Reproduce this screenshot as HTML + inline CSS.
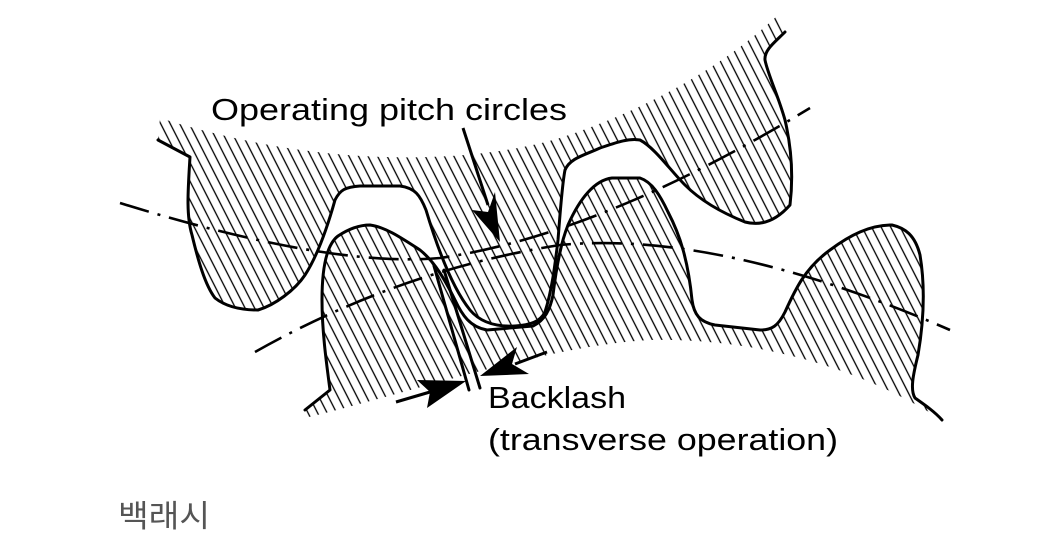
<!DOCTYPE html>
<html><head><meta charset="utf-8"><style>
html,body{margin:0;padding:0;background:#fff;}
svg{display:block;}
text{font-family:"Liberation Sans","DejaVu Sans",sans-serif;}
</style></head><body>
<svg width="1040" height="557" viewBox="0 0 1040 557" xmlns="http://www.w3.org/2000/svg">
<defs>
<pattern id="h" width="8.5" height="20" patternUnits="userSpaceOnUse" patternTransform="rotate(-27)">
<line x1="2" y1="0" x2="2" y2="20" stroke="#000" stroke-width="1.3"/>
</pattern>
</defs>
<path fill="url(#h)" d="M158,140 L190,157 C188,190 186,215 192,235 C198,260 205,285 215,298 C225,306 240,310 258,310 C275,305 295,290 305,275 C318,255 328,225 335,200 C340,190 345,187 360,186 L400,186 C415,188 420,195 426,210 C435,240 450,285 470,310 C480,322 495,327 515,326 C530,325 540,322 545,312 C552,290 555,265 558,240 C560,215 562,185 565,170 C570,158 585,155 600,148 C615,143 628,138 640,140 C655,148 670,170 685,185 C700,200 720,212 745,222 C760,226 775,222 790,205 C793,180 792,150 785,120 C778,95 768,75 765,60 C764,50 775,42 785,32 L778,15 C720,70 640,112 560,138 C480,162 330,172 160,118 Z"/>
<path fill="url(#h)" d="M305,410 L330,390 C326,360 322,330 322,300 C322,270 326,245 338,236 C350,228 360,225 370,225 C385,227 400,237 420,250 C435,262 445,280 455,300 C462,315 470,327 487,330 L533,326 C545,320 550,310 553,295 C556,270 560,245 568,225 C580,198 595,180 612,178 L640,178 C652,182 660,195 668,212 C680,235 688,260 692,300 C694,315 700,322 715,325 L760,330 C772,330 778,326 785,312 C795,290 805,268 830,250 C850,235 870,225 892,225 C905,228 915,235 920,255 C925,285 924,320 918,355 C913,375 910,390 915,398 C925,405 935,412 942,420 C860,368 760,338 650,340 C550,345 420,390 305,418 Z"/>
<g fill="none" stroke="#000" stroke-width="3" stroke-linejoin="round" stroke-linecap="round">
<path d="M158,140 L190,157 C188,190 186,215 192,235 C198,260 205,285 215,298 C225,306 240,310 258,310 C275,305 295,290 305,275 C318,255 328,225 335,200 C340,190 345,187 360,186 L400,186 C415,188 420,195 426,210 C435,240 450,285 470,310 C480,322 495,327 515,326 C530,325 540,322 545,312 C552,290 555,265 558,240 C560,215 562,185 565,170 C570,158 585,155 600,148 C615,143 628,138 640,140 C655,148 670,170 685,185 C700,200 720,212 745,222 C760,226 775,222 790,205 C793,180 792,150 785,120 C778,95 768,75 765,60 C764,50 775,42 785,32"/>
<path d="M305,410 L330,390 C326,360 322,330 322,300 C322,270 326,245 338,236 C350,228 360,225 370,225 C385,227 400,237 420,250 C435,262 445,280 455,300 C462,315 470,327 487,330 L533,326 C545,320 550,310 553,295 C556,270 560,245 568,225 C580,198 595,180 612,178 L640,178 C652,182 660,195 668,212 C680,235 688,260 692,300 C694,315 700,322 715,325 L760,330 C772,330 778,326 785,312 C795,290 805,268 830,250 C850,235 870,225 892,225 C905,228 915,235 920,255 C925,285 924,320 918,355 C913,375 910,390 915,398 C925,405 935,412 942,420"/>
<line x1="434" y1="266" x2="469" y2="390"/>
<line x1="444" y1="270" x2="480" y2="388"/>
</g>
<g fill="none" stroke="#000" stroke-width="2.6" stroke-dasharray="30 9 3 9">
<path d="M120,203 Q330,268 440,258 Q600,235 810,108"/>
<path d="M255,352 Q400,270 560,245 Q720,230 950,330"/>
</g>
<g stroke="#000" stroke-width="3" fill="none">
<line x1="463" y1="128" x2="488" y2="205"/>
<line x1="396" y1="402" x2="430" y2="392"/>
<line x1="547" y1="352" x2="515" y2="364"/>
</g>
<g fill="#000">
<path d="M500,242 L472,210 L488,212 L495,192 Z"/>
<path d="M466,381 L417,380 L430,392 L427,408 Z"/>
<path d="M480,376 L517,347 L512,364 L529,374 Z"/>
</g>
<text x="211" y="120" font-size="31" textLength="356" lengthAdjust="spacingAndGlyphs">Operating pitch circles</text>
<text x="488" y="408" font-size="31" textLength="138" lengthAdjust="spacingAndGlyphs">Backlash</text>
<text x="488" y="450" font-size="31" textLength="350" lengthAdjust="spacingAndGlyphs">(transverse operation)</text>
<text x="118" y="527" font-size="31" fill="#555" textLength="92" lengthAdjust="spacingAndGlyphs" style='font-family:"Liberation Sans","Noto Sans CJK KR",sans-serif'>백래시</text>
</svg>
</body></html>
